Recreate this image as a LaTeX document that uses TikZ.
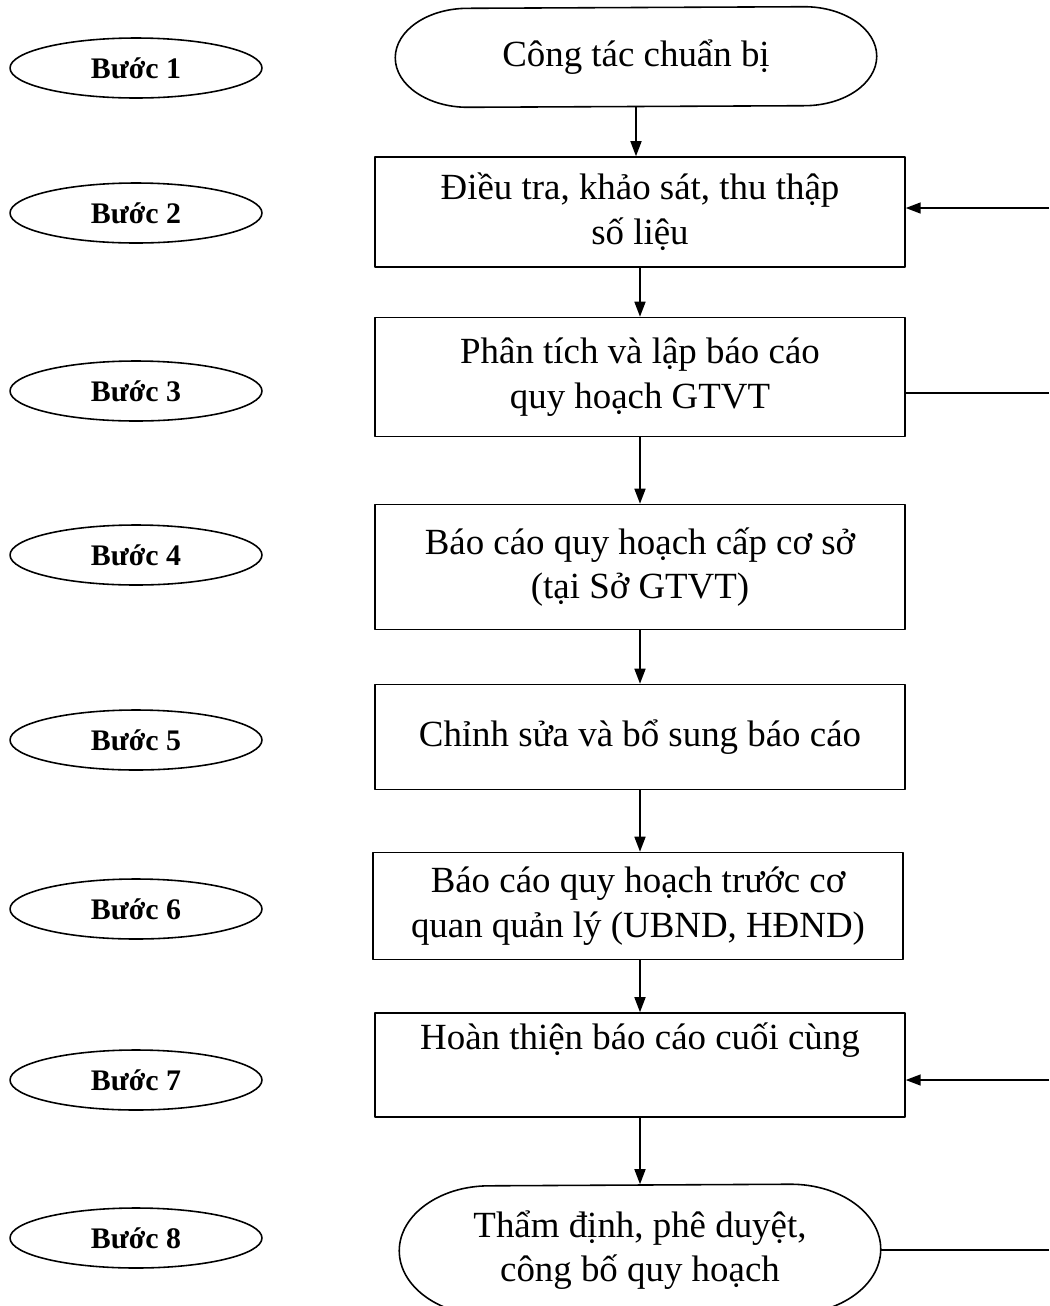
\documentclass[tikz,border=0pt]{standalone}
\usepackage{fontspec}
\setmainfont{Liberation Serif}
\usetikzlibrary{arrows.meta,shapes.geometric}

\begin{document}
\begin{tikzpicture}[x=0.02cm,y=-0.02cm,line width=0.9pt,line join=round,
    buoc/.style={draw,ellipse,minimum width=5.04cm,minimum height=1.2cm,inner sep=0pt,
        font=\fontsize{17}{20}\selectfont\bfseries},
    hop/.style={draw,rectangle,minimum width=10.6cm,align=center,
        font=\fontsize{21}{25.5}\selectfont},
    dau/.style={rectangle,minimum width=9.6cm,align=center,
        font=\fontsize{21}{25.5}\selectfont},
    muiten/.style={-{Triangle[length=0.3cm,width=0.22cm]}}]
        \useasboundingbox (0,0) rectangle (1049,1306);
        \clip (0,0) rectangle (1049,1306);
        % buoc ben trai
        \node[buoc] (e1) at (136,68)   {Bước 1};
        \node[buoc] (e2) at (136,213)  {Bước 2};
        \node[buoc] (e3) at (136,391)  {Bước 3};
        \node[buoc] (e4) at (136,555)  {Bước 4};
        \node[buoc] (e5) at (136,740)  {Bước 5};
        \node[buoc] (e6) at (136,909)  {Bước 6};
        \node[buoc] (e7) at (136,1080) {Bước 7};
        \node[buoc] (e8) at (136,1238) {Bước 8};
        % cac khoi chinh
        \node[dau,minimum height=1.98cm] (s1) at (636,57) {Công tác chuẩn bị};
        \draw ([xshift=-1.45cm]s1.north east)
            arc[start angle=90,end angle=-90,x radius=1.45cm,y radius=0.99cm]
            -- ([xshift=1.45cm]s1.south west)
            arc[start angle=270,end angle=90,x radius=1.45cm,y radius=0.99cm] -- cycle;
        \node[hop,minimum height=2.2cm]  (b2) at (640,212)  {Điều tra, khảo sát, thu thập\\số liệu};
        \node[hop,minimum height=2.38cm] (b3) at (640,377)  {Phân tích và lập báo cáo\\quy hoạch GTVT};
        \node[hop,minimum height=2.5cm]  (b4) at (640,567)  {Báo cáo quy hoạch cấp cơ sở\\(tại Sở GTVT)};
        \node[hop,minimum height=2.1cm]  (b5) at (640,737)  {Chỉnh sửa và bổ sung báo cáo};
        \node[hop,minimum height=2.14cm] (b6) at (638,906)  {Báo cáo quy hoạch trước cơ\\quan quản lý (UBND, HĐND)};
        \node[hop,minimum height=2.08cm] (b7) at (640,1065) {Hoàn thiện báo cáo cuối cùng\\\strut};
        \node[dau,minimum height=2.6cm] (s8) at (640,1250) {Thẩm định, phê duyệt,\\công bố quy hoạch};
        \draw ([xshift=-1.8cm]s8.north east)
            arc[start angle=90,end angle=-90,x radius=1.8cm,y radius=1.3cm]
            -- ([xshift=1.8cm]s8.south west)
            arc[start angle=270,end angle=90,x radius=1.8cm,y radius=1.3cm] -- cycle;
        % mui ten doc
        \draw[muiten] (s1.south) -- (s1.south |- b2.north);
        \draw[muiten] (b2) -- (b3);
        \draw[muiten] (b3) -- (b4);
        \draw[muiten] (b4) -- (b5);
        \draw[muiten] (b5) -- (b5 |- b6.north);
        \draw[muiten] (b6.south -| b7.north) -- (b7);
        \draw[muiten] (b7) -- (b7.south |- s8.north);
        % duong phan hoi ben phai
        \coordinate (r2) at (1049,208);
        \coordinate (r3) at (1049,393);
        \coordinate (r7) at (1049,1080);
        \coordinate (r8) at (1049,1250);
        \draw[muiten] (r2) -- (r2 -| b2.east);
        \draw (r3 -| b3.east) -- (r3);
        \draw[muiten] (r7) -- (r7 -| b7.east);
        \draw (s8.east) -- (r8);
    \end{tikzpicture}
\end{document}
